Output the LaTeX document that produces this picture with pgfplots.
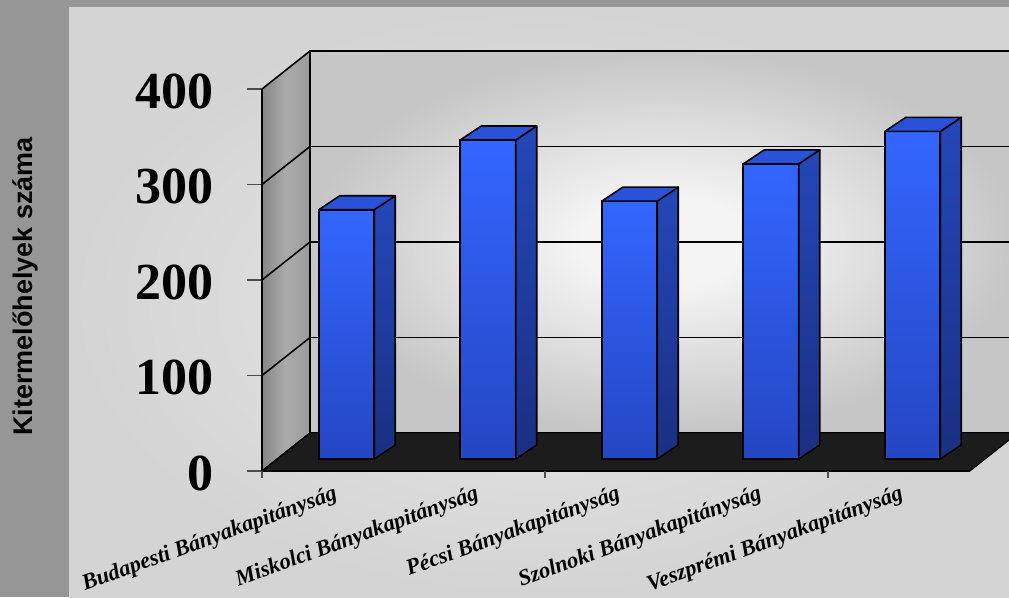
\documentclass[border=0pt]{standalone}
\usepackage{fontspec}
\setmainfont{Liberation Serif}
\newfontfamily\arialfont{Liberation Sans}
\usepackage{pgfplots}
\usepackage{pgfplotstable}
\pgfplotsset{compat=1.18}

\definecolor{outergray}{HTML}{969696}
\definecolor{bgin}{HTML}{E2E2E2}
\definecolor{bgout}{HTML}{D4D4D4}
\definecolor{wallin}{HTML}{F4F4F4}
\definecolor{wallout}{HTML}{C6C6C6}
\definecolor{floorblack}{HTML}{1C1C1C}
\definecolor{leftwallA}{HTML}{868686}
\definecolor{leftwallB}{HTML}{ABABAB}
\definecolor{leftwallC}{HTML}{9A9A9A}
\definecolor{barfronttop}{HTML}{3366FF}
\definecolor{barfrontbot}{HTML}{2446C2}
\definecolor{barsidetop}{HTML}{2447B8}
\definecolor{barsidebot}{HTML}{1A2F82}
\definecolor{bartop}{HTML}{2A52D8}

\pgfdeclareradialshading{backwall}{\pgfpoint{0bp}{0bp}}{%
  color(0bp)=(wallin); color(6bp)=(wallin); color(25bp)=(wallout); color(50bp)=(wallout)}
\pgfdeclareradialshading{chartbg}{\pgfpoint{0bp}{0bp}}{%
  color(0bp)=(bgin); color(8bp)=(bgin); color(25bp)=(bgout); color(50bp)=(bgout)}
\pgfdeclareplotmark{none3d}{}

% Kitermelőhelyek száma bányakapitányságonként
\pgfplotstableread{
x  y
0  261
1  334
2  270
3  309
4  343
}\bardata

\begin{document}
\begin{tikzpicture}[x=1pt,y=1pt]
\path[use as bounding box] (0,0) rectangle (1009,597);
\clip (0,0) rectangle (1009,597);

% background
\fill[outergray] (0,0) rectangle (1009,597);
\path[shading=chartbg] (69,0) rectangle (1009,589);

% y axis title
\node[rotate=90, font=\arialfont\bfseries\fontsize{27}{27}\selectfont]
  at (25,310.5) {Kitermelőhelyek száma};

% left wall
\path[left color=leftwallA, right color=leftwallC, middle color=leftwallB]
  (262,126) -- (262,508) -- (310,546) -- (310,164) -- cycle;

% back wall with grid
\begin{axis}[
    at={(310pt,164pt)}, anchor=south west,
    scale only axis, width=708pt, height=382pt,
    xmin=0, xmax=1, ymin=0, ymax=400,
    xtick=\empty, ytick={100,200,300}, yticklabels={},
    major tick length=0pt,
    ymajorgrids,
    major grid style={black, line width=1.8pt},
    axis line style={black, line width=1.8pt},
    axis background/.style={shading=backwall},
]
\addplot[draw=none] coordinates {(0,0) (1,400)};
\end{axis}

% grid lines on the left wall
\foreach \k in {1,2,3,4} {
  \draw[black, line width=1.6pt] (262,126+95.5*\k) -- (310,164+95.5*\k);
}
\draw[black, line width=1.6pt] (310,164) -- (310,546);

% floor
\fill[floorblack, draw=black, line width=1pt] (262,126) -- (970,126) -- (1018,164) -- (310,164) -- cycle;
\draw[black, line width=1.6pt] (262,126) -- (310,164);

% front plane: ticks, labels, bars
\begin{axis}[
    at={(262pt,126pt)}, anchor=south west,
    scale only axis, width=707.5pt, height=382pt,
    xmin=-0.5, xmax=4.5, ymin=0, ymax=400,
    clip=false,
    axis x line*=bottom, axis y line*=left,
    axis line style={black, line width=1.8pt},
    ytick={0,100,200,300,400},
    tick align=outside, major tick length=15pt,
    ytick style={black!70, line width=1.2pt},
    xtick={0,1,2,3,4}, xtick style={draw=none},
    xticklabels={Budapesti Bányakapitányság, Miskolci Bányakapitányság,
      Pécsi Bányakapitányság, Szolnoki Bányakapitányság, Veszprémi Bányakapitányság},
    /pgf/number format/assume math mode=true,
    yticklabel style={font=\fontsize{52}{52}\selectfont\bfseries, inner sep=0pt, xshift=-33pt, yshift=-2pt},
    xticklabel style={font=\fontsize{22.5}{22.5}\selectfont\bfseries\itshape,
      rotate=20, anchor=north east, inner sep=0pt, xshift=1pt, yshift=2pt},
]
\addplot[scatter, only marks, mark=none3d, point meta=explicit,
  visualization depends on={rawy \as \rawy},
  scatter/@pre marker code/.code={%
    \pgfmathsetmacro\yb{12-0.955*\rawy}%
    \pgfmathsetmacro\yc{26-0.955*\rawy}%
    \path[top color=barfronttop, bottom color=barfrontbot, draw=black, line width=1.6pt]
      (-14pt,\yb pt) rectangle (41.5pt,12pt);
    \path[top color=barsidetop, bottom color=barsidebot, draw=black, line width=1.6pt, line join=round]
      (41.5pt,\yb pt) -- (41.5pt,12pt) -- (62.5pt,26pt) -- (62.5pt,\yc pt) -- cycle;
    \path[fill=bartop, draw=black, line width=1.6pt, line join=round]
      (-14pt,12pt) -- (41.5pt,12pt) -- (62.5pt,26pt) -- (7pt,26pt) -- cycle;
  },
  scatter/@post marker code/.code={},
] table[x=x, y=y, meta=y] {\bardata};
\end{axis}

% category tick marks
\foreach \xx in {262,545,828} {
  \draw[black!70, line width=1.2pt] (\xx,126) -- (\xx,119);
}
\end{tikzpicture}
\end{document}
